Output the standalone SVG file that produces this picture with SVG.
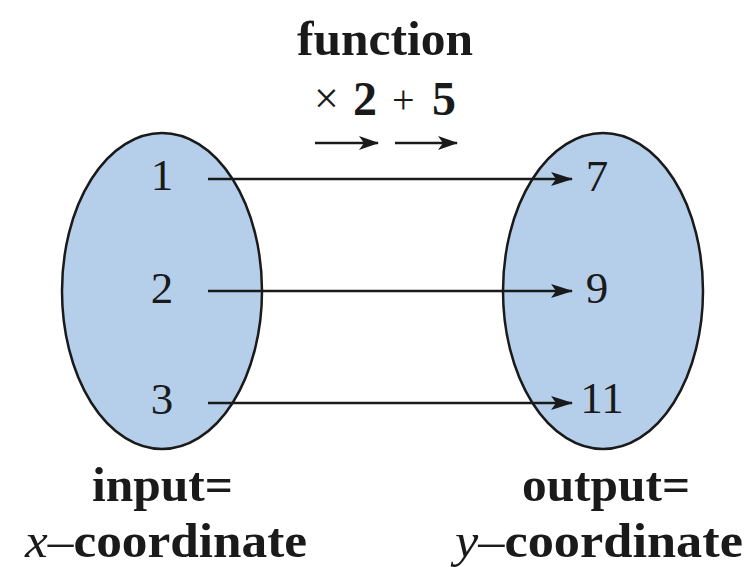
<svg xmlns="http://www.w3.org/2000/svg" width="749" height="567" viewBox="0 0 749 567">
<style>
.t{font-family:"Liberation Serif","Times New Roman",serif;fill:#1a1a1a}
.b{font-weight:bold}
.n{font-size:45px}
.set{fill:#b5cfea;stroke:#1a1a1a;stroke-width:2.5}
.c{stroke:#1a1a1a;stroke-width:2.5;fill:none}
</style>
<defs>
<marker id="ah" markerWidth="20" markerHeight="14" refX="19" refY="7" orient="auto" markerUnits="userSpaceOnUse" viewBox="0 0 20 14">
<path d="M0,0 L20,7 L0,14 L5,7 Z" fill="#1a1a1a"/>
</marker>
<marker id="big" markerWidth="22" markerHeight="14" refX="21" refY="7" orient="auto" markerUnits="userSpaceOnUse" viewBox="0 0 22 14">
<path d="M0,0 L22,7 L0,14 L5,7 Z" fill="#1a1a1a"/>
</marker>
</defs>
<rect width="749" height="567" fill="#ffffff"/>
<g id="title">
<text class="t b" x="297" y="55" font-size="48" textLength="176" lengthAdjust="spacingAndGlyphs">function</text>
<text class="t" x="314" y="113" font-size="44">×</text>
<text class="t b" x="353" y="115" font-size="48">2</text>
<text class="t" x="392" y="113" font-size="40">+</text>
<text class="t b" x="432" y="115" font-size="48">5</text>
<line class="c" x1="315" y1="143" x2="378" y2="143" marker-end="url(#ah)"/>
<line class="c" x1="395" y1="143" x2="457" y2="143" marker-end="url(#ah)"/>
</g>
<g id="input-set">
<ellipse class="set" cx="162" cy="291" rx="100" ry="158"/>
<text class="t n" x="162" y="190" text-anchor="middle">1</text>
<text class="t n" x="162" y="303" text-anchor="middle">2</text>
<text class="t n" x="162" y="414" text-anchor="middle">3</text>
</g>
<g id="output-set">
<ellipse class="set" cx="603" cy="291" rx="100" ry="158"/>
<text class="t n" x="597" y="191" text-anchor="middle">7</text>
<text class="t n" x="597" y="303" text-anchor="middle">9</text>
<text class="t n" x="602" y="413" text-anchor="middle">11</text>
</g>
<g id="connectors">
<line class="c" x1="208" y1="179" x2="572" y2="179" marker-end="url(#big)"/>
<line class="c" x1="208" y1="291" x2="572" y2="291" marker-end="url(#big)"/>
<line class="c" x1="208" y1="403" x2="572" y2="403" marker-end="url(#big)"/>
</g>
<g id="input-label">
<text class="t b" x="92" y="501" font-size="48" textLength="141" lengthAdjust="spacingAndGlyphs">input=</text>
<text class="t" x="25" y="557" font-size="48" textLength="282" lengthAdjust="spacingAndGlyphs"><tspan font-style="italic">x</tspan>–<tspan font-weight="bold">coordinate</tspan></text>
</g>
<g id="output-label">
<text class="t b" x="522" y="501" font-size="48" textLength="168" lengthAdjust="spacingAndGlyphs">output=</text>
<text class="t" x="455" y="557" font-size="48" textLength="288" lengthAdjust="spacingAndGlyphs"><tspan font-style="italic">y</tspan>–<tspan font-weight="bold">coordinate</tspan></text>
</g>
</svg>
